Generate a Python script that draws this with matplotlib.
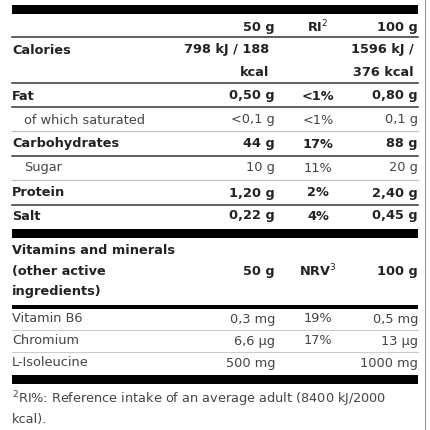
import matplotlib.pyplot as plt

plt.rcParams['font.family'] = ['DejaVu Sans']

# rows: label, per 50 g, RI, per 100 g
labels = ['Calories', '', 'Fat', 'of which saturated', 'Carbohydrates', 'Sugar', 'Protein', 'Salt']
col50 = ['798 kJ / 188', 'kcal', '0,50 g', '<0,1 g', '44 g', '10 g', '1,20 g', '0,22 g']
colri = ['', '', '<1%', '<1%', '17%', '11%', '2%', '4%']
col100 = ['1596 kJ /', '376 kcal', '0,80 g', '0,1 g', '88 g', '20 g', '2,40 g', '0,45 g']
bold = [True, True, True, False, True, False, True, True]
indent = [0, 0, 0, 12, 0, 12, 0, 0]
row_y = [50, 72, 96, 120, 144, 168, 193, 216]

vit_labels = ['Vitamin B6', 'Chromium', 'L-Isoleucine']
vit50 = ['0,3 mg', '6,6 µg', '500 mg']
vitnrv = ['19%', '17%', '']
vit100 = ['0,5 mg', '13 µg', '1000 mg']
vit_y = [319, 341, 363]

fig = plt.figure(figsize=(4.3, 4.3), dpi=100)
ax = fig.add_axes([0, 0, 1, 1])
ax.set_xlim(0, 430)
ax.set_ylim(430, 0)
ax.axis('off')

ink = '#222222'
grey = '#444444'
fs = 9.3
X0, X50, XRI, X100 = 12, 275, 318, 418

# right border
ax.plot([425, 425], [0, 430], color='#999999', lw=0.8)

# thick bars
for y0, y1 in [(5, 14), (229, 238), (305, 309), (375, 384)]:
    ax.fill_between([12, 418], y0, y1, color='black', lw=0)

# thin separators
for y, c in [(37, '#333333'), (83, '#333333'), (107, '#333333'), (131, '#bbbbbb'),
             (156, '#333333'), (180, '#bbbbbb'), (205, '#333333'),
             (330, '#cccccc'), (352, '#cccccc')]:
    ax.plot([12, 418], [y, y], color=c, lw=1.1 if c == '#333333' else 0.8)

# header
ax.text(X50, 27, '50 g', ha='right', va='center', fontsize=fs, fontweight='bold', color=ink)
ax.text(XRI, 27, 'RI$^2$', ha='center', va='center', fontsize=fs, fontweight='bold', color=ink)
ax.text(X100, 27, '100 g', ha='right', va='center', fontsize=fs, fontweight='bold', color=ink)

for lab, a, r, b, bd, ind, y in zip(labels, col50, colri, col100, bold, indent, row_y):
    w = 'bold' if bd else 'normal'
    c = ink if bd else grey
    ax.text(X0 + ind, y, lab, ha='left', va='center', fontsize=fs, fontweight=w, color=c)
    xa = X50 - 6 if a in ('798 kJ / 188', 'kcal') else X50
    xb = X100 - 4 if b in ('1596 kJ /', '376 kcal') else X100
    ax.text(xa, y, a, ha='right', va='center', fontsize=fs, fontweight=w, color=c)
    ax.text(XRI, y, r, ha='center', va='center', fontsize=fs, fontweight=w, color=c)
    ax.text(xb, y, b, ha='right', va='center', fontsize=fs, fontweight=w, color=c)

# vitamins header
for t, y in [('Vitamins and minerals', 250), ('(other active', 271), ('ingredients)', 292)]:
    ax.text(X0, y, t, ha='left', va='center', fontsize=fs, fontweight='bold', color=ink)
ax.text(X50, 271, '50 g', ha='right', va='center', fontsize=fs, fontweight='bold', color=ink)
ax.text(XRI, 271, 'NRV$^3$', ha='center', va='center', fontsize=fs, fontweight='bold', color=ink)
ax.text(X100, 271, '100 g', ha='right', va='center', fontsize=fs, fontweight='bold', color=ink)

for lab, a, r, b, y in zip(vit_labels, vit50, vitnrv, vit100, vit_y):
    ax.text(X0, y, lab, ha='left', va='center', fontsize=fs, color=grey)
    ax.text(X50, y, a, ha='right', va='center', fontsize=fs, color=grey)
    ax.text(XRI, y, r, ha='center', va='center', fontsize=fs, color=grey)
    ax.text(X100, y, b, ha='right', va='center', fontsize=fs, color=grey)

ax.text(X0, 399, '$^2$RI%: Reference intake of an average adult (8400 kJ/2000',
        ha='left', va='center', fontsize=fs, color=grey)
ax.text(X0, 420, 'kcal).', ha='left', va='center', fontsize=fs, color=grey)

fig.savefig('out.png', dpi=100)
